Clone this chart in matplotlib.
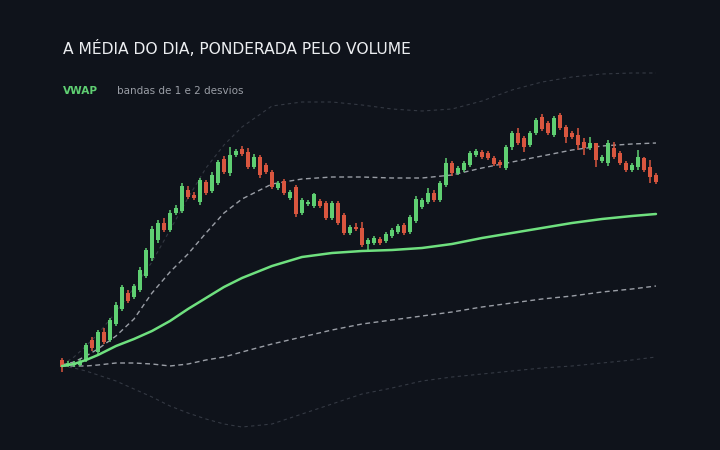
import numpy as np
import matplotlib
matplotlib.use('Agg')
import matplotlib.pyplot as plt

# candle OHLC (price per bar, 100 bars)
opens = [50.05, 49.99, 50.00, 50.00, 50.05, 50.25, 50.13, 50.33, 50.25, 50.41,
         50.56, 50.72, 50.68, 50.75, 50.89, 51.07, 51.25, 51.42, 51.35, 51.52,
         51.54, 51.75, 51.70, 51.63, 51.83, 51.74, 51.82, 52.06, 51.92, 52.10,
         52.16, 52.13, 51.98, 52.08, 52.00, 51.93, 51.77, 51.84, 51.67, 51.78,
         51.52, 51.61, 51.59, 51.64, 51.62, 51.47, 51.62, 51.50, 51.32, 51.38,
         51.37, 51.21, 51.22, 51.26, 51.24, 51.29, 51.33, 51.40, 51.33, 51.44,
         51.58, 51.63, 51.72, 51.65, 51.80, 52.02, 51.92, 51.95, 52.00, 52.10,
         52.13, 52.12, 52.07, 52.03, 51.97, 52.18, 52.32, 52.27, 52.20, 52.32,
         52.48, 52.42, 52.30, 52.50, 52.38, 52.32, 52.30, 52.23, 52.17, 52.22,
         52.04, 52.02, 52.17, 52.12, 52.02, 51.95, 51.98, 52.07, 51.98, 51.90]
highs = [50.07, 50.04, 50.04, 50.06, 50.22, 50.28, 50.35, 50.37, 50.47, 50.63,
         50.80, 50.75, 50.81, 50.98, 51.17, 51.39, 51.45, 51.47, 51.55, 51.60,
         51.82, 51.79, 51.73, 51.87, 51.85, 51.93, 52.05, 52.09, 52.18, 52.16,
         52.19, 52.17, 52.11, 52.10, 52.02, 51.95, 51.84, 51.86, 51.75, 51.80,
         51.67, 51.65, 51.72, 51.66, 51.64, 51.64, 51.64, 51.52, 51.40, 51.42,
         51.43, 51.27, 51.29, 51.28, 51.33, 51.37, 51.41, 51.42, 51.50, 51.69,
         51.67, 51.77, 51.75, 51.84, 52.07, 52.04, 51.99, 52.04, 52.14, 52.16,
         52.15, 52.14, 52.09, 52.05, 52.20, 52.34, 52.37, 52.29, 52.34, 52.47,
         52.51, 52.44, 52.49, 52.52, 52.40, 52.34, 52.37, 52.27, 52.28, 52.22,
         52.10, 52.25, 52.23, 52.14, 52.04, 52.02, 52.15, 52.08, 52.05, 51.92]
lows = [49.93, 49.98, 49.98, 49.99, 50.03, 50.14, 50.10, 50.21, 50.23, 50.39,
        50.54, 50.62, 50.66, 50.73, 50.87, 51.04, 51.22, 51.33, 51.33, 51.50,
        51.52, 51.66, 51.65, 51.60, 51.70, 51.72, 51.80, 51.91, 51.89, 52.08,
        52.09, 51.96, 51.96, 51.87, 51.91, 51.76, 51.75, 51.70, 51.65, 51.48,
        51.50, 51.59, 51.57, 51.57, 51.45, 51.45, 51.40, 51.30, 51.30, 51.34,
        51.18, 51.15, 51.20, 51.20, 51.22, 51.27, 51.31, 51.30, 51.31, 51.42,
        51.56, 51.61, 51.63, 51.63, 51.78, 51.89, 51.90, 51.93, 51.98, 52.08,
        52.06, 52.05, 51.99, 51.97, 51.95, 52.15, 52.20, 52.13, 52.18, 52.30,
        52.34, 52.30, 52.28, 52.35, 52.22, 52.26, 52.15, 52.10, 52.15, 51.98,
        52.02, 51.99, 52.06, 52.00, 51.93, 51.93, 51.95, 51.93, 51.82, 51.81]
closes = [49.98, 50.02, 50.02, 50.03, 50.20, 50.17, 50.33, 50.23, 50.45, 50.60,
          50.78, 50.64, 50.79, 50.95, 51.15, 51.36, 51.42, 51.35, 51.52, 51.57,
          51.79, 51.68, 51.67, 51.85, 51.72, 51.90, 52.03, 51.93, 52.10, 52.14,
          52.11, 51.98, 52.08, 51.90, 51.93, 51.78, 51.82, 51.72, 51.73, 51.51,
          51.65, 51.63, 51.71, 51.59, 51.47, 51.62, 51.42, 51.32, 51.38, 51.36,
          51.20, 51.25, 51.27, 51.22, 51.31, 51.35, 51.39, 51.32, 51.48, 51.66,
          51.65, 51.72, 51.65, 51.82, 52.02, 51.92, 51.97, 52.02, 52.12, 52.14,
          52.08, 52.07, 52.01, 52.00, 52.18, 52.32, 52.22, 52.18, 52.32, 52.45,
          52.36, 52.32, 52.47, 52.37, 52.28, 52.28, 52.20, 52.17, 52.22, 52.05,
          52.08, 52.22, 52.08, 52.02, 51.95, 52.00, 52.08, 51.95, 51.88, 51.83]

# VWAP and deviation bands, read at these bar indices
band_idx = [0, 2, 4, 6, 9, 12, 15, 18, 21, 24, 27, 30, 35, 40, 45, 50, 55, 60, 65, 70, 75, 80, 85, 90, 95, 99]
vwap = [49.99, 50.01, 50.05, 50.10, 50.19, 50.26, 50.34, 50.44, 50.56, 50.67, 50.78, 50.87, 50.99, 51.08,
        51.12, 51.14, 51.15, 51.17, 51.21, 51.27, 51.32, 51.37, 51.42, 51.46, 51.49, 51.51]
upper1 = [50.00, 50.03, 50.09, 50.16, 50.29, 50.46, 50.72, 50.93, 51.11, 51.32, 51.52, 51.66, 51.81, 51.86,
          51.88, 51.88, 51.87, 51.87, 51.90, 51.97, 52.03, 52.09, 52.15, 52.19, 52.21, 52.22]
lower1 = [49.99, 49.99, 49.99, 50.00, 50.02, 50.02, 50.01, 49.99, 50.01, 50.05, 50.08, 50.13, 50.21, 50.28,
          50.35, 50.41, 50.45, 50.49, 50.53, 50.58, 50.62, 50.66, 50.69, 50.73, 50.76, 50.79]
upper2 = [50.00, 50.08, 50.19, 50.31, 50.53, 50.77, 51.03, 51.35, 51.67, 51.97, 52.20, 52.38, 52.59, 52.63,
          52.63, 52.60, 52.56, 52.54, 52.56, 52.64, 52.75, 52.83, 52.88, 52.91, 52.92, 52.92]
lower2 = [49.99, 49.97, 49.94, 49.90, 49.84, 49.76, 49.68, 49.59, 49.52, 49.46, 49.41, 49.38, 49.41, 49.51,
          49.61, 49.71, 49.77, 49.84, 49.88, 49.91, 49.94, 49.97, 49.99, 50.02, 50.05, 50.08]

title = 'A MÉDIA DO DIA, PONDERADA PELO VOLUME'
legend_main = 'VWAP'
legend_bands = 'bandas de 1 e 2 desvios'

BG = '#0f131b'
UP = '#5fcf72'
DOWN = '#d9563f'

fig = plt.figure(figsize=(7.2, 4.5), dpi=100, facecolor=BG)
ax = fig.add_axes([0, 0, 1, 1])
ax.set_facecolor(BG)
ax.set_xlim(-10.33, 109.67)
ax.set_ylim(49.15, 53.65)
ax.axis('off')

# outer (2 sigma) bands - faint
ax.plot(band_idx, upper2, color='#343943', lw=0.8, ls=(0, (3, 3)))
ax.plot(band_idx, lower2, color='#343943', lw=0.8, ls=(0, (3, 3)))
# inner (1 sigma) bands
ax.plot(band_idx, upper1, color='#9a9ea6', lw=1.0, ls=(0, (3.5, 2.5)))
ax.plot(band_idx, lower1, color='#9a9ea6', lw=1.0, ls=(0, (3.5, 2.5)))

# candles
o = np.array(opens); c = np.array(closes)
hi = np.array(highs); lo = np.array(lows)
x = np.arange(len(o))
cols = [UP if cc >= oo else DOWN for oo, cc in zip(o, c)]
ax.vlines(x, lo, hi, colors=cols, lw=1.1, zorder=3)
body_h = np.maximum(np.abs(c - o), 0.015)
ax.bar(x, body_h, bottom=np.minimum(o, c), width=0.68, color=cols, zorder=4, linewidth=0)

# VWAP
ax.plot(band_idx, vwap, color='#6fe07f', lw=1.8, zorder=5, solid_capstyle='round')

fig.text(63 / 720, 1 - 48 / 450, title, color='#eceef1', fontsize=11.2,
         fontweight='medium', va='center', ha='left', family='DejaVu Sans')
fig.text(63 / 720, 1 - 91 / 450, legend_main, color='#5fcf72', fontsize=7.6,
         fontweight='bold', va='center', ha='left', family='DejaVu Sans')
fig.text(117 / 720, 1 - 91 / 450, legend_bands, color='#9a9ea6', fontsize=7.5,
         va='center', ha='left', family='DejaVu Sans')

fig.savefig('out.png', dpi=100, facecolor=BG)
